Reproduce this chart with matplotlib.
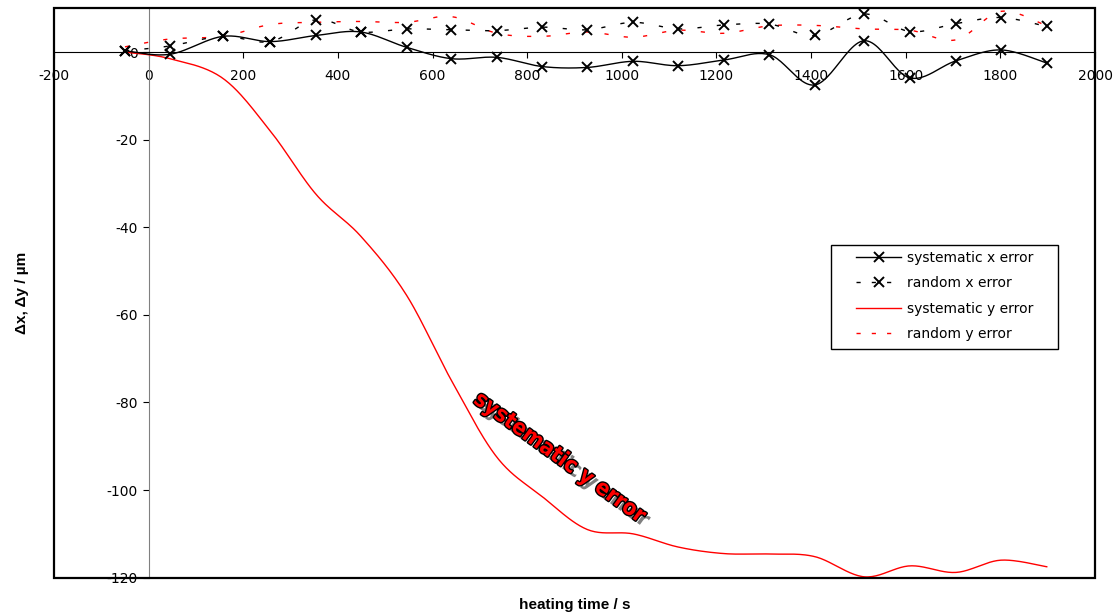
import numpy as np
import matplotlib
matplotlib.use("Agg")
from matplotlib import pyplot as plt
from matplotlib import patheffects as pe
from matplotlib.patches import Rectangle
from matplotlib.legend_handler import HandlerLine2D

plt.rcParams["axes.unicode_minus"] = False

# heating time (s) at which the drift was sampled
t = [-50, 45, 157, 257, 354, 448, 545, 640, 736, 832, 927,
     1024, 1119, 1216, 1312, 1408, 1512, 1609, 1706, 1801, 1898]

# drift components in micrometres
sys_x = [0.3, -0.5, 3.6, 2.4, 3.8, 4.6, 1.1, -1.5, -1.2, -3.3, -3.5,
         -2.1, -3.1, -1.8, -0.6, -7.5, 2.6, -5.9, -2.0, 0.5, -2.5]
rand_x = [0.3, 1.4, 3.6, 2.4, 7.4, 4.6, 5.3, 5.1, 4.9, 5.7, 5.1,
          6.8, 5.3, 6.2, 6.4, 3.8, 8.7, 4.7, 6.5, 7.9, 5.85]
sys_y = [0.0, -1.5, -6.0, -18.0, -32.5, -42.0, -55.5, -75.0, -92.5, -101.5, -109.0,
         -110.0, -113.0, -114.5, -114.6, -115.2, -119.8, -117.3, -118.8, -116.0, -117.5]
rand_y = [1.2, 3.0, 3.6, 6.3, 6.8, 7.0, 6.8, 8.1, 4.3, 3.6, 4.6,
          3.4, 5.0, 4.3, 6.0, 6.1, 5.3, 5.0, 2.8, 9.3, 6.0]

x_ticks = list(range(-200, 2001, 200))
y_ticks = list(range(-120, 1, 20))


def smooth(x, y, n=24):
    """Bezier smoothing through every point (spreadsheet style smoothed line)."""
    x = np.asarray(x, float)
    y = np.asarray(y, float)
    px = np.concatenate([[x[0]], x, [x[-1]]])
    py = np.concatenate([[y[0]], y, [y[-1]]])
    s = np.linspace(0, 1, n, endpoint=False)
    xs, ys = [], []
    for i in range(len(x) - 1):
        for p, out in ((px, xs), (py, ys)):
            p0, p1, p2, p3 = p[i:i + 4]
            c1 = p1 + (p2 - p0) / 6
            c2 = p2 - (p3 - p1) / 6
            out.append((1 - s) ** 3 * p1 + 3 * (1 - s) ** 2 * s * c1
                       + 3 * (1 - s) * s ** 2 * c2 + s ** 3 * p2)
    xs.append([x[-1]])
    ys.append([y[-1]])
    return np.concatenate(xs), np.concatenate(ys)


fig = plt.figure(figsize=(11.16, 6.16), dpi=100)
ax = fig.add_axes([0.0484, 0.0622, 0.9328, 0.9243])

dash = (0, (3, 11))

xs, ys = smooth(t, sys_y)
ax.plot(xs, ys, color="red", lw=1, zorder=3)
xs, ys = smooth(t, rand_y)
ax.plot(xs, ys, color="red", lw=1, ls=dash, zorder=3)
xs, ys = smooth(t, sys_x)
ax.plot(xs, ys, color="black", lw=1, zorder=4)
xs, ys = smooth(t, rand_x)
ax.plot(xs, ys, color="black", lw=1, ls=dash, zorder=4)
ax.plot(t, sys_x, ls="none", marker="x", ms=7, mew=1.4, color="black", zorder=5)
ax.plot(t, rand_x, ls="none", marker="x", ms=7, mew=1.4, color="black", zorder=5)

# legend proxies, framed by a separate box
h1, = ax.plot([], [], color="black", lw=1, marker="x", ms=7, mew=1.4)
h2, = ax.plot([], [], color="black", lw=1, ls=(0, (3, 8)), marker="x", ms=7, mew=1.4)
h3, = ax.plot([], [], color="red", lw=1)
h4, = ax.plot([], [], color="red", lw=1, ls=(0, (3, 8)))
pad = HandlerLine2D(xpad=1.4)
ax.legend([h1, h2, h3, h4],
          ["systematic x error", "random x error",
           "systematic y error", "random y error"],
          loc="upper left", bbox_to_anchor=(0.746, 0.584), borderaxespad=0,
          fontsize=10, frameon=False, handlelength=4.7, handletextpad=0.43,
          labelspacing=0.82, borderpad=0.4,
          handler_map={h1: pad, h2: pad, h3: pad, h4: pad})
ax.add_patch(Rectangle((0.746, 0.402), 0.218, 0.182, transform=ax.transAxes,
                       fill=False, lw=1, ec="black", zorder=6))

ax.set_xlim(-200, 2000)
ax.set_ylim(-120, 10)
ax.set_xticks(x_ticks)
ax.set_yticks(y_ticks)

# axes cross at the origin, plot area gets its own frame
ax.spines["left"].set_position(("data", 0))
ax.spines["left"].set_color("#808080")
ax.spines["bottom"].set_position(("data", 0))
ax.spines["bottom"].set_color("black")
ax.spines["top"].set_visible(False)
ax.spines["right"].set_visible(False)
ax.add_patch(Rectangle((0, 0), 1, 1, transform=ax.transAxes, fill=False,
                       lw=1.6, ec="black", zorder=6, clip_on=False))
ax.tick_params(axis="x", direction="out", length=4, pad=8, labelsize=10)
ax.tick_params(axis="y", direction="out", length=4, pad=4, labelsize=10)

ax.set_xlabel("heating time / s", fontweight="bold", fontsize=11,
              family="Liberation Sans")
ax.set_ylabel("\u0394x, \u0394y / \u00b5m", fontweight="bold", fontsize=11,
              family="Liberation Sans")
ax.xaxis.set_label_coords(0.5, -0.035)
ax.yaxis.set_label_coords(-0.024, 0.5)

ax.text(869, -92.7, "systematic y error", color="red", rotation=-36,
        rotation_mode="anchor", ha="center", va="center", fontsize=16,
        fontweight="bold", family="DejaVu Sans", fontstretch="condensed",
        zorder=7,
        path_effects=[pe.SimplePatchShadow(offset=(3, -3), shadow_rgbFace="gray", alpha=1),
                      pe.withStroke(linewidth=2, foreground="black")])

fig.savefig("out.png", dpi=100)
